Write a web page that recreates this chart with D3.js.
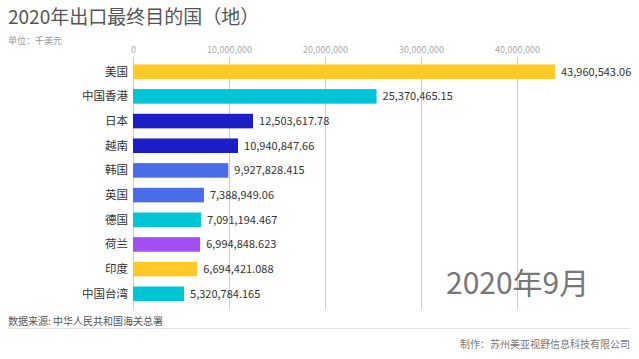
<!DOCTYPE html>
<html><head><meta charset="utf-8">
<script src="https://cdn.jsdelivr.net/npm/d3@7"></script>
<style>body{margin:0;background:#fff}svg{display:block}</style>
</head><body><svg id="c" width="639" height="359"></svg>
<script>
const categories = ["美国","中国香港","日本","越南","韩国","英国","德国","荷兰","印度","中国台湾"];
const values = [43960543.06,25370465.15,12503617.78,10940847.66,9927828.415,7388949.06,7091194.467,6994848.623,6694421.088,5320784.165];
const valueLabels = ["43,960,543.06","25,370,465.15","12,503,617.78","10,940,847.66","9,927,828.415","7,388,949.06","7,091,194.467","6,994,848.623","6,694,421.088","5,320,784.165"];
const colors = ["#FFCA28","#00C5D4","#1A1FC8","#1A1FC8","#4A6CE8","#4A6CE8","#00C5D4","#A34EF0","#FFCA28","#00C5D4"];
const tickValues = [0,10000000,20000000,30000000,40000000];

const svg = d3.select("#c");
const font = "'Noto Sans CJK SC','Noto Sans',sans-serif";
const x = d3.scaleLinear().domain([0,40000000]).range([133,517]);
const y = d3.scaleBand().domain(categories).range([59.5,306]).paddingInner(0.41).paddingOuter(0.2);

// gridlines
svg.append("g").selectAll("line").data(tickValues).join("line")
  .attr("x1",d=>x(d)).attr("x2",d=>x(d)).attr("y1",57).attr("y2",309)
  .attr("stroke","#ccc").attr("stroke-width",1).attr("shape-rendering","crispEdges");

// top axis
const ax = svg.append("g").attr("transform","translate(0,64)")
  .call(d3.axisTop(x).tickValues(tickValues).tickFormat(d3.format(",")).tickSize(7).tickSizeOuter(0));
ax.select(".domain").remove();
ax.selectAll(".tick line").attr("stroke","#ccc");
ax.selectAll("text").attr("fill","#aaa").style("font-family",font).style("font-size","9px").attr("dy","-0.1em");

// bars
svg.append("g").selectAll("rect").data(values).join("rect")
  .attr("x",x(0)).attr("y",(d,i)=>y(categories[i]))
  .attr("width",d=>x(d)-x(0)).attr("height",y.bandwidth())
  .attr("fill",(d,i)=>colors[i]);

// category labels
svg.append("g").selectAll("text").data(categories).join("text")
  .attr("x",128).attr("y",d=>y(d)+y.bandwidth()/2).attr("dy","0.35em")
  .attr("text-anchor","end").attr("fill","#333")
  .style("font-family",font).style("font-size","11.5px").text(d=>d);

// value labels
svg.append("g").selectAll("text").data(values).join("text")
  .attr("x",d=>x(d)+6).attr("y",(d,i)=>y(categories[i])+y.bandwidth()/2).attr("dy","0.35em")
  .attr("fill","#333").style("font-family",font).style("font-size","11px")
  .text((d,i)=>valueLabels[i]);

// titles
svg.append("text").attr("x",8).attr("y",24).attr("fill","#555")
  .style("font-family",font).style("font-size","19px").text("2020年出口最终目的国（地）");
svg.append("text").attr("x",8).attr("y",44).attr("fill","#999")
  .style("font-family",font).style("font-size","9px").text("单位：千美元");

svg.append("text").attr("x",446).attr("y",294).attr("fill","#777")
  .style("font-family",font).style("font-size","30px").text("2020年9月");

svg.append("text").attr("x",8).attr("y",325).attr("fill","#555")
  .style("font-family",font).style("font-size","10px").text("数据来源: 中华人民共和国海关总署");
svg.append("line").attr("x1",8).attr("x2",630).attr("y1",328.5).attr("y2",328.5)
  .attr("stroke","#e3e3e3").attr("stroke-width",1);
svg.append("text").attr("x",630).attr("y",348).attr("text-anchor","end").attr("fill","#777")
  .style("font-family",font).style("font-size","10px").text("制作：苏州美亚视野信息科技有限公司");
</script></body></html>
